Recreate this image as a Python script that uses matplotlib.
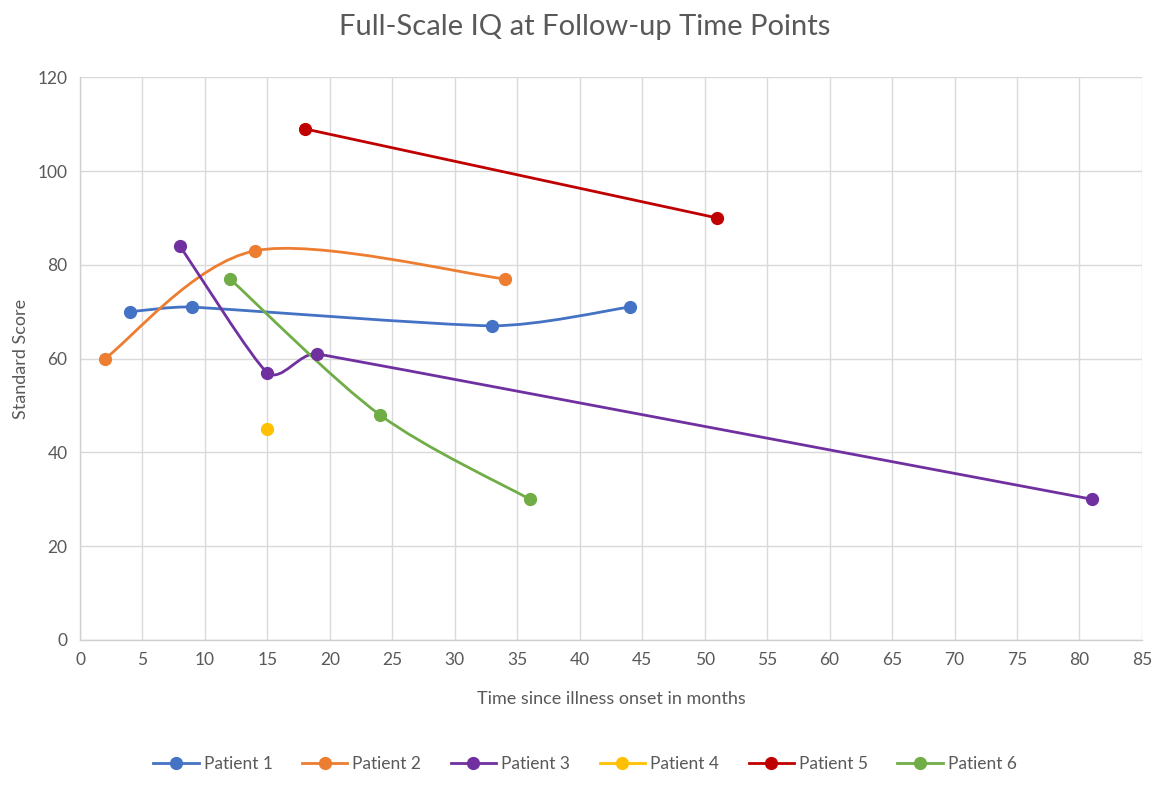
import numpy as np
import matplotlib
matplotlib.use("Agg")
import matplotlib.pyplot as plt
from matplotlib.path import Path
from matplotlib.patches import PathPatch
from matplotlib.lines import Line2D

plt.rcParams['font.family'] = ['Lato', 'DejaVu Sans']

# --------- DATA ----------
p1_x = [4, 9, 33, 44]
p1_y = [70, 71, 67, 71]
p2_x = [2, 14, 34]
p2_y = [60, 83, 77]
p3_x = [8, 15, 19, 81]
p3_y = [84, 57, 61, 30]
p4_x = [15]
p4_y = [45]
p5_x = [18, 51]
p5_y = [109, 90]
p6_x = [12, 24, 36]
p6_y = [77, 48, 30]

names = ["Patient 1", "Patient 2", "Patient 3", "Patient 4", "Patient 5", "Patient 6"]
colors = ["#4472C4", "#ED7D31", "#7030A0", "#FFC000", "#C00000", "#70AD47"]
series = [(p1_x, p1_y), (p2_x, p2_y), (p3_x, p3_y), (p4_x, p4_y), (p5_x, p5_y), (p6_x, p6_y)]

# rough pixel size of one data unit, so the smoothing acts like it does on screen
SX, SY = 12.5, 4.69


def smooth_path(xs, ys):
    # Excel-style smoothed line: cubic bezier through the points,
    # control arms clamped by the shorter neighbouring segment so nothing loops
    pts = np.column_stack([np.array(xs) * SX, np.array(ys) * SY]).astype(float)
    n = len(pts)
    segs = [np.hypot(*(pts[i + 1] - pts[i])) for i in range(n - 1)]
    verts = [pts[0]]
    codes = [Path.MOVETO]
    for i in range(n - 1):
        p0 = pts[i - 1] if i > 0 else pts[i]
        p1 = pts[i]
        p2 = pts[i + 1]
        p3 = pts[i + 2] if i + 2 < n else pts[i + 1]
        a1 = (p2 - p0) / 6.0
        a2 = (p3 - p1) / 6.0
        lim1 = min(segs[max(i - 1, 0)], segs[i]) / 3.0
        lim2 = min(segs[i], segs[min(i + 1, n - 2)]) / 3.0
        for a, lim in ((a1, lim1), (a2, lim2)):
            l = np.hypot(*a)
            if l > lim:
                a *= lim / l
        verts += [p1 + a1, p2 - a2, p2]
        codes += [Path.CURVE4] * 3
    verts = np.array(verts) / [SX, SY]
    return Path(verts, codes)


fig = plt.figure(figsize=(11.7, 7.89), dpi=100)
ax = fig.add_axes([0.0684, 0.189, 0.9076, 0.713])

for (xs, ys), c in zip(series, colors):
    if len(xs) > 1:
        ax.add_patch(PathPatch(smooth_path(xs, ys), facecolor="none", edgecolor=c,
                               lw=2.0, zorder=3, capstyle="round"))
    ax.plot(xs, ys, ls="none", marker="o", ms=8.5, color=c, zorder=4)

ax.set_xlim(0, 85)
ax.set_ylim(0, 120)
ax.set_xticks(np.arange(0, 86, 5))
ax.set_yticks(np.arange(0, 121, 20))
ax.grid(True, color="#d9d9d9", lw=1.0)
ax.set_axisbelow(True)
for s in ["top", "right"]:
    ax.spines[s].set_visible(False)
for s in ["left", "bottom"]:
    ax.spines[s].set_color("#d0d0d0")
    ax.spines[s].set_linewidth(1.0)
ax.tick_params(length=0, labelsize=12.5, labelcolor="#595959", pad=9)

ax.set_xlabel("Time since illness onset in months", fontsize=13, color="#595959", labelpad=16)
ax.set_ylabel("Standard Score", fontsize=13, color="#595959", labelpad=6)
fig.suptitle("Full-Scale IQ at Follow-up Time Points", fontsize=21, color="#595959", y=0.982)

handles = [Line2D([0], [0], color=c, lw=2.0, marker="o", ms=8.5) for c in colors]
fig.legend(handles, names, loc="center", bbox_to_anchor=(0.5, 0.032), ncol=6, frameon=False,
           fontsize=12.5, labelcolor="#595959", handlelength=2.6, columnspacing=1.7, handletextpad=0.3)

fig.savefig("out.png", dpi=100)
